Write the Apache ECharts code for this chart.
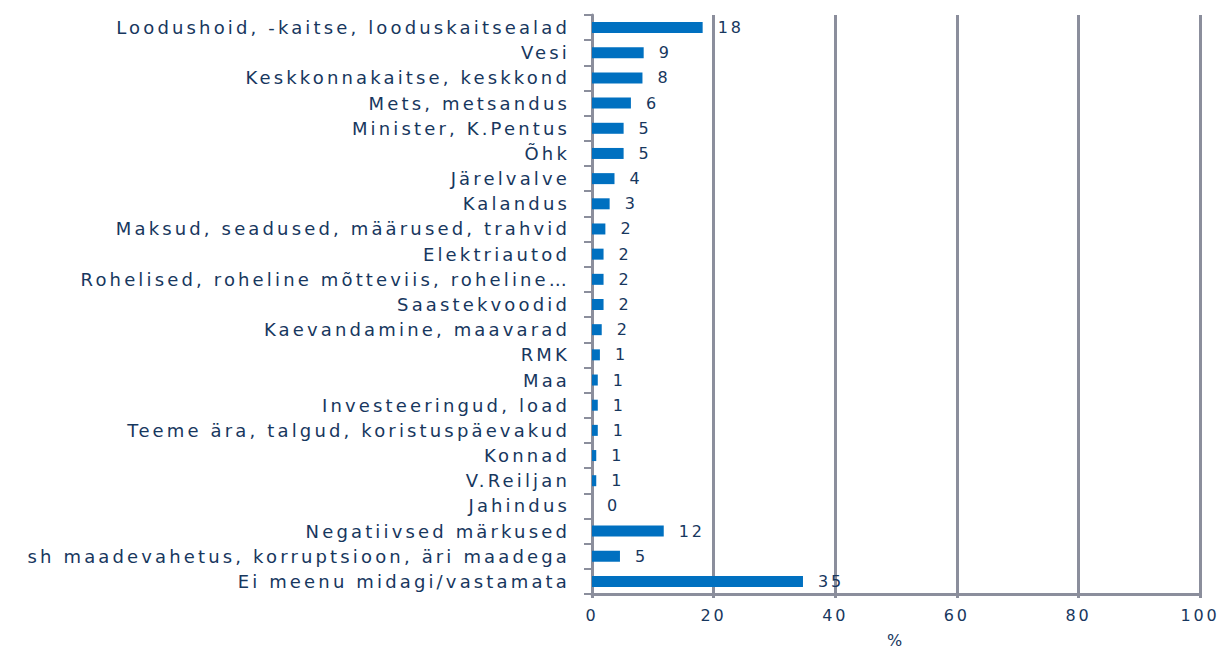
<!DOCTYPE html>
<html>
<head>
<meta charset="utf-8">
<script src="https://cdn.jsdelivr.net/npm/echarts@6/dist/echarts.min.js"></script>
<style>
html,body{margin:0;padding:0;background:#fff;overflow:hidden}
#c{width:100vw;height:100vh}
#c text{letter-spacing:0.175em}
</style>
</head>
<body>
<div id="c"></div>
<script>
const categories = [
  "Loodushoid, -kaitse, looduskaitsealad",
  "Vesi",
  "Keskkonnakaitse, keskkond",
  "Mets, metsandus",
  "Minister, K.Pentus",
  "Õhk",
  "Järelvalve",
  "Kalandus",
  "Maksud, seadused, määrused, trahvid",
  "Elektriautod",
  "Rohelised, roheline mõtteviis, roheline…",
  "Saastekvoodid",
  "Kaevandamine, maavarad",
  "RMK",
  "Maa",
  "Investeeringud, load",
  "Teeme ära, talgud, koristuspäevakud",
  "Konnad",
  "V.Reiljan",
  "Jahindus",
  "Negatiivsed märkused",
  "sh maadevahetus, korruptsioon, äri maadega",
  "Ei meenu midagi/vastamata"
];
const values = [18.2, 8.5, 8.3, 6.4, 5.2, 5.2, 3.7, 2.9, 2.2, 1.9, 1.9, 1.9, 1.6, 1.3, 0.95, 0.95, 0.95, 0.7, 0.7, 0, 11.8, 4.6, 34.7];
const xTicks = { min: 0, max: 100, interval: 20 };
const axisName = "%";

const txt = '#17375E';
const grid = '#8B8E9C';
const chart = echarts.init(document.getElementById('c'), null, { renderer: 'svg' });
chart.setOption({
  animation: false,
  grid: { left: 592, right: 24, top: 15, bottom: 53, containLabel: false },
  xAxis: {
    type: 'value', min: xTicks.min, max: xTicks.max, interval: xTicks.interval,
    name: axisName, nameLocation: 'middle', nameGap: 38,
    nameTextStyle: { color: txt, fontFamily: 'DejaVu Sans', fontSize: 16 },
    axisLine: { show: true, lineStyle: { color: grid, width: 3 } },
    axisTick: { show: true, length: 4, lineStyle: { color: grid, width: 3 } },
    axisLabel: { color: txt, fontFamily: 'DejaVu Sans', fontSize: 16, margin: 13 },
    splitLine: { show: true, lineStyle: { color: grid, width: 3 } }
  },
  yAxis: {
    type: 'category', data: categories, inverse: true,
    axisLine: { show: true, lineStyle: { color: grid, width: 3 } },
    axisTick: { show: true, length: 8, lineStyle: { color: grid, width: 2 } },
    axisLabel: { color: txt, fontFamily: 'DejaVu Sans', fontSize: 18, margin: 22 },
    splitLine: { show: false }
  },
  series: [{
    type: 'bar', data: values, barWidth: 11,
    itemStyle: { color: '#0070C0' },
    label: {
      show: true, position: 'right', distance: 15,
      color: txt, fontFamily: 'DejaVu Sans', fontSize: 16,
      formatter: p => Math.round(p.value)
    }
  }]
});
</script>
</body>
</html>
